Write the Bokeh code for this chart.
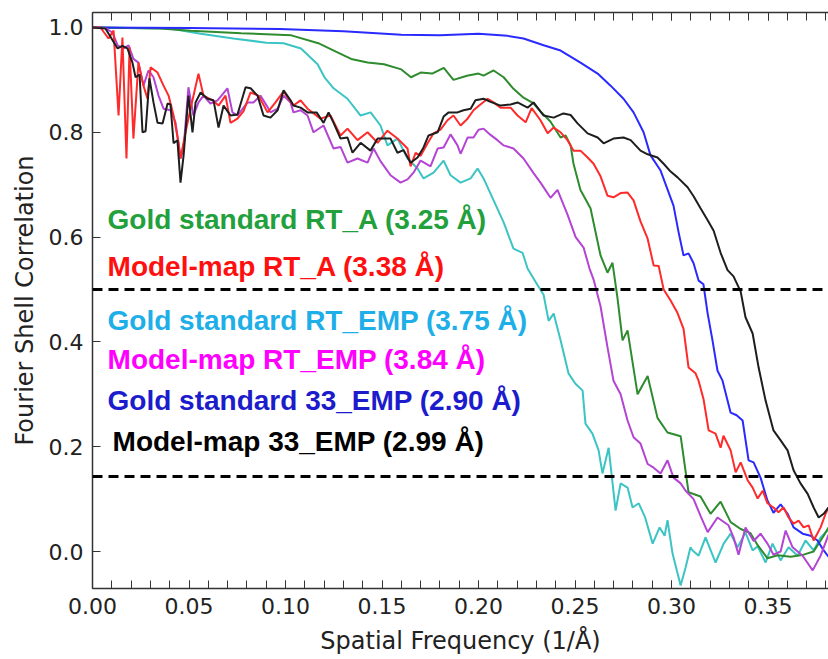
from bokeh.plotting import figure
from bokeh.models import (Range1d, LinearAxis, SingleIntervalTicker, PrintfTickFormatter,
                          CustomJSTickFormatter, Span, Label)
from bokeh.embed import file_html
from bokeh.resources import INLINE

# ---------------- data (spatial frequency 1/Å, FSC) ----------------
gs_rt_a = [(0.0, 1.0), (0.035, 0.998), (0.051, 0.994), (0.077, 0.989), (0.103, 0.985), (0.117, 0.97),
           (0.125, 0.956), (0.134, 0.94), (0.1425, 0.933), (0.151, 0.93), (0.16, 0.92), (0.165, 0.905),
           (0.17, 0.914), (0.176, 0.912), (0.182, 0.923), (0.187, 0.90), (0.194, 0.908), (0.2, 0.912),
           (0.2026, 0.908), (0.2078, 0.918), (0.213, 0.905), (0.2181, 0.883), (0.2233, 0.866),
           (0.2285, 0.855), (0.2321, 0.84), (0.2373, 0.82), (0.2425, 0.79), (0.2451, 0.794),
           (0.2477, 0.775), (0.2492, 0.74), (0.2528, 0.69), (0.258, 0.655), (0.2632, 0.565),
           (0.2668, 0.532), (0.2694, 0.551), (0.272, 0.483), (0.2746, 0.403), (0.2772, 0.422),
           (0.2824, 0.30), (0.2876, 0.335), (0.2927, 0.255), (0.2979, 0.227), (0.3047, 0.22),
           (0.3088, 0.113), (0.315, 0.105), (0.3202, 0.072), (0.3254, 0.095), (0.3306, 0.056),
           (0.3358, 0.043), (0.3409, 0.035), (0.3446, 0.012), (0.3497, -0.013), (0.3549, -0.007),
           (0.3617, -0.01), (0.3684, -0.006), (0.3736, 0.0), (0.3788, 0.03), (0.3813, 0.046)]

mm_rt_a = [(0.0, 1.0), (0.0041, 1.0), (0.0083, 0.979), (0.0109, 0.994), (0.0135, 0.832), (0.0155, 0.981),
           (0.0176, 0.75), (0.0192, 0.962), (0.0212, 0.788), (0.0238, 0.933), (0.0264, 0.889),
           (0.0285, 0.864), (0.0301, 0.924), (0.0337, 0.914), (0.0368, 0.889), (0.0394, 0.87),
           (0.042, 0.832), (0.0446, 0.78), (0.0456, 0.75), (0.0482, 0.80), (0.0508, 0.845),
           (0.0549, 0.912), (0.0575, 0.87), (0.0622, 0.861), (0.0653, 0.851), (0.0689, 0.87),
           (0.0715, 0.818), (0.0751, 0.826), (0.0782, 0.84), (0.0819, 0.876), (0.086, 0.87),
           (0.0907, 0.838), (0.0948, 0.857), (0.099, 0.878), (0.1041, 0.851), (0.1078, 0.861),
           (0.1114, 0.845), (0.1181, 0.826), (0.1233, 0.832), (0.1285, 0.794), (0.1321, 0.807),
           (0.1373, 0.785), (0.1425, 0.80), (0.1477, 0.78), (0.1528, 0.803), (0.158, 0.788),
           (0.1632, 0.769), (0.1648, 0.735), (0.1674, 0.761), (0.17, 0.755), (0.1736, 0.779),
           (0.1767, 0.798), (0.1803, 0.805), (0.1839, 0.823), (0.187, 0.832), (0.1907, 0.813),
           (0.1943, 0.826), (0.1974, 0.842), (0.2, 0.85), (0.2047, 0.864), (0.2078, 0.857),
           (0.2114, 0.847), (0.2166, 0.847), (0.2202, 0.832), (0.2244, 0.819), (0.2275, 0.846),
           (0.2321, 0.823), (0.2358, 0.798), (0.2389, 0.809), (0.2425, 0.80), (0.2461, 0.785),
           (0.2492, 0.765), (0.2528, 0.765), (0.2565, 0.752), (0.2596, 0.74), (0.2632, 0.716),
           (0.2668, 0.679), (0.2699, 0.676), (0.2736, 0.684), (0.2772, 0.685), (0.2803, 0.67),
           (0.2839, 0.63), (0.2876, 0.597), (0.2907, 0.546), (0.2933, 0.545), (0.2959, 0.50),
           (0.2995, 0.479), (0.3031, 0.455), (0.3062, 0.425), (0.3088, 0.351), (0.3124, 0.34),
           (0.314, 0.326), (0.3166, 0.29), (0.3192, 0.231), (0.3228, 0.225), (0.3254, 0.198),
           (0.3269, 0.221), (0.3306, 0.193), (0.3332, 0.151), (0.3358, 0.17), (0.3394, 0.136),
           (0.342, 0.122), (0.3446, 0.101), (0.3472, 0.116), (0.3497, 0.092), (0.3528, 0.084),
           (0.3554, 0.075), (0.358, 0.084), (0.3606, 0.065), (0.3632, 0.053), (0.3658, 0.059),
           (0.3684, 0.046), (0.371, 0.05), (0.3736, 0.021), (0.3772, 0.046), (0.3798, 0.072),
           (0.3813, 0.084)]

gs_rt_emp = [(0.0, 1.0), (0.04, 0.998), (0.056, 0.988), (0.073, 0.979), (0.09, 0.971), (0.099, 0.97),
             (0.108, 0.96), (0.1166, 0.93), (0.1202, 0.905), (0.1249, 0.884), (0.1321, 0.864),
             (0.1389, 0.832), (0.1441, 0.838), (0.1492, 0.813), (0.1528, 0.775), (0.158, 0.788),
             (0.1632, 0.75), (0.1684, 0.731), (0.1715, 0.712), (0.1767, 0.723), (0.1819, 0.746),
             (0.1855, 0.718), (0.1907, 0.704), (0.1959, 0.712), (0.1995, 0.731), (0.2026, 0.712),
             (0.2078, 0.67), (0.213, 0.628), (0.2181, 0.578), (0.2228, 0.57), (0.2254, 0.54),
             (0.2306, 0.508), (0.2337, 0.49), (0.2363, 0.44), (0.2389, 0.454), (0.2425, 0.403),
             (0.2466, 0.34), (0.2502, 0.32), (0.2539, 0.307), (0.2554, 0.244), (0.259, 0.225),
             (0.2622, 0.193), (0.2642, 0.149), (0.2674, 0.198), (0.271, 0.078), (0.2736, 0.13),
             (0.2772, 0.122), (0.2798, 0.084), (0.283, 0.092), (0.2863, 0.065), (0.2902, 0.015),
             (0.2938, 0.046), (0.2964, 0.03), (0.2979, 0.06), (0.3005, -0.004), (0.3047, -0.065),
             (0.3073, -0.03), (0.3098, 0.008), (0.3109, 0.002), (0.314, -0.008), (0.3176, 0.027),
             (0.3228, -0.021), (0.327, 0.015), (0.3306, 0.034), (0.3342, 0.008), (0.3383, 0.036),
             (0.342, 0.002), (0.3446, 0.01), (0.3487, -0.021), (0.3523, 0.015), (0.3565, -0.017),
             (0.3606, 0.008), (0.3653, -0.008), (0.3694, 0.021), (0.3736, 0.002), (0.3772, 0.027),
             (0.3808, 0.04)]

mm_rt_emp = [(0.0, 1.0), (0.0067, 0.999), (0.0104, 0.99), (0.013, 0.966), (0.0161, 0.96), (0.0187, 0.966),
             (0.0212, 0.94), (0.0238, 0.933), (0.0264, 0.889), (0.029, 0.918), (0.0316, 0.905),
             (0.0342, 0.87), (0.0368, 0.845), (0.0404, 0.842), (0.043, 0.819), (0.0456, 0.75),
             (0.0472, 0.77), (0.0497, 0.886), (0.0523, 0.832), (0.0549, 0.857), (0.0575, 0.87),
             (0.0611, 0.855), (0.0648, 0.861), (0.0699, 0.884), (0.0725, 0.838), (0.0751, 0.832),
             (0.0803, 0.857), (0.0834, 0.857), (0.087, 0.87), (0.0907, 0.848), (0.0922, 0.838),
             (0.0959, 0.845), (0.099, 0.87), (0.1026, 0.857), (0.1041, 0.838), (0.1078, 0.842),
             (0.1114, 0.832), (0.1145, 0.80), (0.1197, 0.813), (0.1249, 0.769), (0.1285, 0.772),
             (0.1321, 0.742), (0.1373, 0.75), (0.1425, 0.742), (0.1456, 0.769), (0.1492, 0.745),
             (0.1544, 0.718), (0.1596, 0.704), (0.1632, 0.71), (0.1663, 0.723), (0.17, 0.746),
             (0.1751, 0.735), (0.1788, 0.769), (0.1819, 0.771), (0.1855, 0.796), (0.1891, 0.775),
             (0.1907, 0.759), (0.1943, 0.79), (0.1974, 0.79), (0.2, 0.805), (0.2026, 0.807),
             (0.2062, 0.795), (0.2098, 0.785), (0.213, 0.775), (0.2181, 0.769), (0.2233, 0.75),
             (0.2285, 0.722), (0.2321, 0.704), (0.2373, 0.675), (0.2409, 0.69), (0.2461, 0.643),
             (0.2503, 0.60), (0.2544, 0.58), (0.2575, 0.54), (0.2596, 0.519), (0.2632, 0.468),
             (0.2668, 0.39), (0.2699, 0.326), (0.2736, 0.30), (0.2772, 0.25), (0.2803, 0.218),
             (0.2839, 0.206), (0.2876, 0.167), (0.2907, 0.16), (0.2943, 0.149), (0.2979, 0.174),
             (0.301, 0.141), (0.3047, 0.13), (0.3073, 0.116), (0.3114, 0.10), (0.315, 0.068),
             (0.3187, 0.037), (0.3238, 0.065), (0.3295, 0.05), (0.3321, 0.027), (0.3347, -0.006),
             (0.3383, 0.046), (0.3425, 0.02), (0.3461, 0.034), (0.3497, 0.015), (0.3528, -0.006),
             (0.3565, 0.0), (0.3591, 0.04), (0.3627, 0.008), (0.3679, -0.008), (0.3731, -0.036),
             (0.3772, -0.008), (0.3813, 0.032)]

gs_33_emp = [(0.0, 1.0), (0.05, 0.999), (0.097, 0.997), (0.13, 0.993), (0.16, 0.986), (0.18, 0.985),
             (0.2, 0.988), (0.215, 0.984), (0.2233, 0.979), (0.2337, 0.966), (0.2425, 0.956),
             (0.2528, 0.933), (0.2617, 0.912), (0.2684, 0.889), (0.2751, 0.864), (0.2803, 0.838),
             (0.2855, 0.80), (0.2891, 0.756), (0.2943, 0.727), (0.301, 0.66), (0.3036, 0.61),
             (0.3062, 0.565), (0.3088, 0.569), (0.3114, 0.55), (0.314, 0.517), (0.3165, 0.51),
             (0.3187, 0.454), (0.3212, 0.403), (0.3238, 0.345), (0.3264, 0.326), (0.3306, 0.265),
             (0.3337, 0.26), (0.3368, 0.25), (0.3399, 0.174), (0.3425, 0.17), (0.3461, 0.141),
             (0.3497, 0.097), (0.3528, 0.074), (0.3565, 0.09), (0.3601, 0.072), (0.3632, 0.046),
             (0.3679, 0.034), (0.372, 0.03), (0.3756, 0.021), (0.3788, 0.002), (0.3813, -0.01)]

mm_33_emp = [(0.0, 1.0), (0.0067, 0.998), (0.013, 0.96), (0.0155, 0.965), (0.0181, 0.96), (0.0207, 0.933),
             (0.0223, 0.905), (0.0244, 0.91), (0.0259, 0.80), (0.0275, 0.802), (0.0295, 0.903),
             (0.0316, 0.857), (0.0337, 0.818), (0.0363, 0.817), (0.0389, 0.855), (0.0404, 0.853),
             (0.042, 0.779), (0.044, 0.785), (0.0456, 0.704), (0.0472, 0.756), (0.0497, 0.87),
             (0.0518, 0.80), (0.0534, 0.857), (0.056, 0.876), (0.0596, 0.864), (0.0627, 0.861),
             (0.0653, 0.809), (0.0679, 0.851), (0.0715, 0.832), (0.0751, 0.834), (0.0793, 0.886),
             (0.0819, 0.884), (0.0855, 0.87), (0.0886, 0.832), (0.0922, 0.828), (0.0959, 0.842),
             (0.099, 0.88), (0.1026, 0.861), (0.1041, 0.851), (0.1078, 0.847), (0.1114, 0.838),
             (0.1161, 0.838), (0.1197, 0.818), (0.1223, 0.838), (0.1249, 0.818), (0.1285, 0.788),
             (0.1321, 0.79), (0.1347, 0.761), (0.1389, 0.78), (0.144, 0.765), (0.1477, 0.788),
             (0.1508, 0.788), (0.1544, 0.788), (0.158, 0.761), (0.1611, 0.766), (0.1648, 0.742),
             (0.1684, 0.752), (0.1715, 0.771), (0.1741, 0.794), (0.1788, 0.80), (0.1819, 0.83),
             (0.1845, 0.838), (0.1891, 0.838), (0.1922, 0.842), (0.1959, 0.845), (0.1984, 0.861),
             (0.2026, 0.864), (0.2062, 0.858), (0.2114, 0.851), (0.2166, 0.853), (0.2202, 0.857),
             (0.2254, 0.847), (0.2285, 0.857), (0.2337, 0.832), (0.2389, 0.828), (0.244, 0.836),
             (0.2477, 0.833), (0.2513, 0.817), (0.2565, 0.798), (0.2617, 0.79), (0.2648, 0.779),
             (0.2699, 0.788), (0.2751, 0.79), (0.2788, 0.785), (0.2839, 0.765), (0.2876, 0.758),
             (0.2927, 0.752), (0.2959, 0.74), (0.2995, 0.725), (0.3031, 0.714), (0.3083, 0.695),
             (0.3114, 0.678), (0.315, 0.655), (0.3187, 0.632), (0.3218, 0.612), (0.3254, 0.57),
             (0.329, 0.537), (0.3321, 0.525), (0.3358, 0.496), (0.3383, 0.447), (0.342, 0.416),
             (0.3451, 0.351), (0.3487, 0.288), (0.3528, 0.231), (0.3565, 0.212), (0.3601, 0.193),
             (0.3632, 0.155), (0.3668, 0.13), (0.3705, 0.11), (0.3736, 0.084), (0.3762, 0.065),
             (0.3788, 0.072), (0.3813, 0.084)]

thresholds = [0.5, 0.143]

labels = ["Gold standard RT_A (3.25 Å)", "Model-map RT_A (3.38 Å)", "Gold standard RT_EMP (3.75 Å)",
          "Model-map RT_EMP (3.84 Å)", "Gold standard 33_EMP (2.90 Å)", "Model-map 33_EMP (2.99 Å)"]

# ---------------- styles ----------------
series = [gs_rt_emp, gs_rt_a, gs_33_emp, mm_rt_emp, mm_rt_a, mm_33_emp]
line_colors = ["#3cc4c4", "#2e8b2e", "#2a2aff", "#b444d4", "#ff2a2a", "#1e1e1e"]

label_colors = ["#22a03c", "#ff1010", "#1eaee8", "#ff00ff", "#1c1ccc", "#000000"]
label_pos = [(0.0078, 0.634), (0.0078, 0.544), (0.0078, 0.441), (0.0078, 0.366), (0.0078, 0.288),
             (0.0104, 0.210)]

p = figure(width=828, height=659, output_backend="svg", toolbar_location=None,
           x_range=Range1d(0, 0.3813), y_range=Range1d(-0.0706, 1.0286),
           min_border_left=92, min_border_right=0, min_border_top=12, min_border_bottom=71)
p.outline_line_color = None
p.grid.visible = False
p.background_fill_color = "white"
p.border_fill_color = "white"

for data, col in zip(series, line_colors):
    xs = [d[0] for d in data]
    ys = [d[1] for d in data]
    p.line(xs, ys, line_color=col, line_width=2)

for t in thresholds:
    p.add_layout(Span(location=t, dimension="width", line_color="black", line_width=3,
                      line_dash="10 6"))

for txt, col, (lx, ly) in zip(labels, label_colors, label_pos):
    p.add_layout(Label(x=lx, y=ly, text=txt, text_color=col, text_font="Liberation Sans",
                       text_font_style="bold", text_font_size="28px", text_baseline="middle"))

axis_color = "#333333"
font = "DejaVu Sans"

xa = p.xaxis[0]
xa.ticker = SingleIntervalTicker(interval=0.05, num_minor_ticks=5)
xa.formatter = PrintfTickFormatter(format="%.2f")
ya = p.yaxis[0]
ya.ticker = SingleIntervalTicker(interval=0.2, num_minor_ticks=0)
ya.formatter = PrintfTickFormatter(format="%.1f")

for ax in (xa, ya):
    ax.axis_line_color = axis_color
    ax.axis_line_width = 1.5
    ax.major_tick_in = 8
    ax.major_tick_out = 0
    ax.minor_tick_in = 8
    ax.minor_tick_out = 0
    ax.major_tick_line_color = axis_color
    ax.minor_tick_line_color = axis_color
    ax.major_label_text_font = font
    ax.major_label_text_font_size = "22px"
    ax.major_label_text_color = "#222222"
    ax.major_label_standoff = 9
    ax.axis_label_text_font = font
    ax.axis_label_text_font_size = "24px"
    ax.axis_label_text_font_style = "normal"
    ax.axis_label_text_color = "#222222"
ya.minor_tick_line_color = None

xa.axis_label = "Spatial Frequency (1/Å)"
xa.axis_label_standoff = 10
ya.axis_label = "Fourier Shell Correlation"
ya.axis_label_standoff = 7

top = LinearAxis(ticker=SingleIntervalTicker(interval=0.05, num_minor_ticks=5),
                 formatter=CustomJSTickFormatter(code="return ''"))
top.axis_line_color = axis_color
top.axis_line_width = 1.5
top.major_tick_in = 8
top.major_tick_out = 0
top.minor_tick_in = 8
top.minor_tick_out = 0
top.major_tick_line_color = axis_color
top.minor_tick_line_color = axis_color
top.major_label_standoff = 0
top.major_label_text_font_size = "1px"
p.add_layout(top, "above")

open("out.html", "w").write(file_html(p, INLINE))
